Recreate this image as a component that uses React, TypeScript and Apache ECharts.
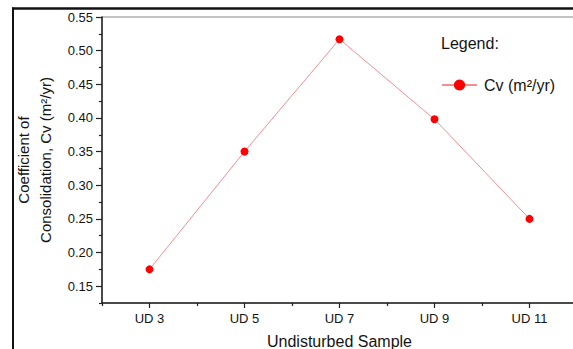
import React, { useEffect, useRef } from "react";
import * as echarts from "echarts";

const categories = ["UD 3", "UD 5", "UD 7", "UD 9", "UD 11"];
const cvValues = [0.175, 0.35, 0.517, 0.398, 0.25];
const yMajorTicks = [0.15, 0.2, 0.25, 0.3, 0.35, 0.4, 0.45, 0.5, 0.55];
const yMinorTicks = [0.125, 0.175, 0.225, 0.275, 0.325, 0.375, 0.425, 0.475, 0.525];

const FONT = "'Liberation Sans', Arial, sans-serif";
const TXT = "#141414";
const AX = "#222";

export default function App() {
  const ref = useRef<HTMLDivElement>(null);
  useEffect(() => {
    if (!ref.current) return;
    const chart = echarts.init(ref.current, null, { renderer: "svg" });
    chart.setOption({
      animation: false,
      backgroundColor: "#fff",
      textStyle: { fontFamily: FONT },
      title: {
        text: "Legend:",
        left: 441,
        top: 35,
        padding: 0,
        textStyle: { fontFamily: FONT, fontSize: 16, fontWeight: "normal", color: TXT },
      },
      legend: {
        left: 441,
        top: 77,
        padding: 0,
        itemWidth: 35,
        itemHeight: 14,
        itemGap: 5,
        data: [{ name: "Cv (m²/yr)" }],
        textStyle: { fontFamily: FONT, fontSize: 16, color: TXT, padding: [0, 0, 0, 2] },
      },
      grid: {
        left: 102,
        top: 17,
        width: 475,
        bottom: 46,
        show: true,
        borderColor: "#888",
        borderWidth: 1,
        containLabel: false,
        outerBoundsMode: "none",
      },
      xAxis: [
        {
          type: "category",
          data: categories,
          boundaryGap: true,
          name: "Undisturbed Sample",
          nameLocation: "middle",
          nameGap: 30,
          nameTextStyle: { fontFamily: FONT, fontSize: 16, color: TXT },
          axisLine: { show: true, lineStyle: { color: AX, width: 1.5 } },
          axisTick: { show: true, alignWithLabel: true, length: 5, lineStyle: { color: AX, width: 1.2 } },
          axisLabel: { margin: 9, fontFamily: FONT, fontSize: 13, color: TXT },
          splitLine: { show: false },
        },
        {
          type: "category",
          data: categories,
          boundaryGap: true,
          position: "bottom",
          axisLine: { show: false },
          axisTick: { show: true, alignWithLabel: false, length: 3, lineStyle: { color: AX, width: 1.2 } },
          axisLabel: { show: false },
          splitLine: { show: false },
        },
      ],
      yAxis: [
        {
          type: "value",
          min: 0.125,
          max: 0.55,
          name: "Coefficient of\nConsolidation, Cv (m²/yr)",
          nameLocation: "middle",
          nameGap: 44,
          nameTextStyle: { fontFamily: FONT, fontSize: 15, color: TXT, lineHeight: 22, align: "center" },
          axisLine: { show: true, lineStyle: { color: AX, width: 1.5 } },
          axisTick: { show: true, customValues: yMajorTicks, length: 6, lineStyle: { color: AX, width: 1.2 } },
          axisLabel: {
            customValues: yMajorTicks,
            margin: 9,
            fontFamily: FONT,
            fontSize: 13,
            color: TXT,
            formatter: (v: number) => v.toFixed(2),
          },
          splitLine: { show: false },
        },
        {
          type: "value",
          min: 0.125,
          max: 0.55,
          position: "left",
          axisLine: { show: false },
          axisTick: { show: true, customValues: yMinorTicks, length: 3, lineStyle: { color: AX, width: 1.2 } },
          axisLabel: { show: false, customValues: yMinorTicks },
          splitLine: { show: false },
        },
      ],
      series: [
        {
          name: "Cv (m²/yr)",
          type: "line",
          xAxisIndex: 0,
          yAxisIndex: 0,
          data: cvValues,
          symbol: "circle",
          symbolSize: 8,
          itemStyle: { color: "#ff0000" },
          lineStyle: { color: "#f09090", width: 1 },
        },
      ],
      graphic: [
        { type: "line", shape: { x1: 12, y1: 8.5, x2: 573, y2: 8.5 }, style: { stroke: "#111", lineWidth: 2.5 } },
        { type: "line", shape: { x1: 13, y1: 7.5, x2: 13, y2: 349 }, style: { stroke: "#111", lineWidth: 2 } },
      ],
    });
    return () => chart.dispose();
  }, []);
  return (
    <div
      ref={ref}
      style={{ position: "fixed", left: 0, top: 0, width: 573, height: 349 }}
    />
  );
}
